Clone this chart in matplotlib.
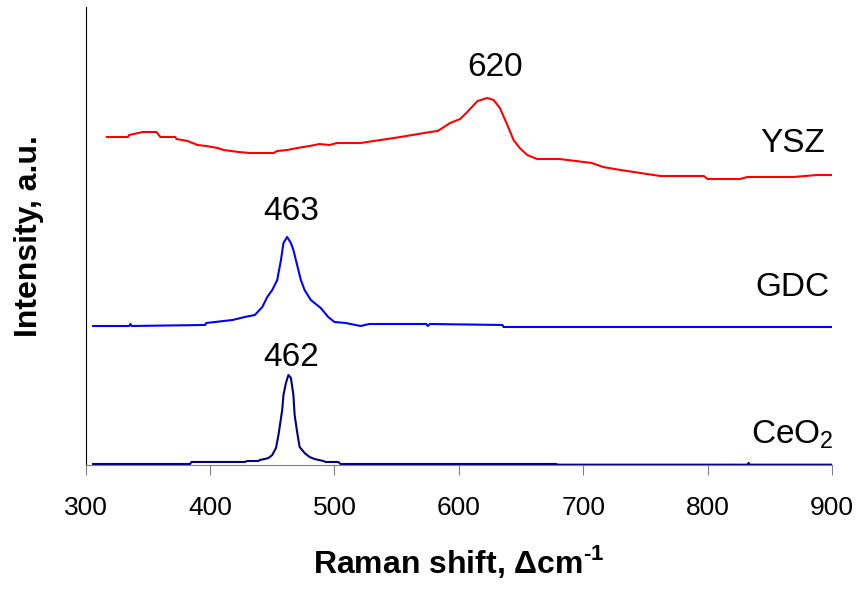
import matplotlib.pyplot as plt

plt.rcParams["font.family"] = ["Liberation Sans", "DejaVu Sans"]
plt.rcParams["mathtext.fontset"] = "custom"
plt.rcParams["mathtext.rm"] = "Liberation Sans"
plt.rcParams["mathtext.bf"] = "Liberation Sans:bold"

# Raman spectra, offset intensities (a.u.).
ysz_x = [317, 334, 335, 346, 357, 360, 372, 373, 382, 390, 397, 406, 411, 423,
         432, 440, 451, 454, 462, 470, 480, 488, 496, 502, 521, 537, 553, 577,
         583, 593, 601, 606, 612, 615, 623, 628, 633, 639, 644, 649, 655, 663,
         681, 707, 716, 730, 746, 762, 797, 800, 826, 832, 869, 888, 900]
ysz_y = [328, 328, 330, 333, 333, 328, 328, 326, 324, 320, 319, 317, 315, 313,
         312, 312, 312, 314, 315, 317, 319, 321, 320, 322, 322, 325, 328, 333,
         334, 342, 346, 352, 360, 364, 367, 365, 357, 340, 325, 317, 310, 306,
         306, 302, 298, 295, 292, 289, 289, 286, 286, 288, 288, 290, 290]

gdc_x = [306, 335, 336, 337, 396, 397, 418, 428, 436, 442, 446, 450, 454,
         457, 459, 462, 465, 467, 470, 473, 476, 481, 489, 495, 500, 509, 521,
         528, 574, 575, 577, 635, 636, 900]
gdc_y = [139, 139, 141, 139, 140, 142, 145, 148, 150, 158, 168, 175, 185,
         205, 222, 228, 222, 215, 200, 185, 175, 165, 157, 148, 143, 142, 139,
         141, 141, 139, 141, 140, 138, 138]

ceo2_x = [306, 384, 385, 428, 430, 439, 440, 444, 447, 450, 453, 455, 458,
          459, 461, 463, 465, 467, 468, 470, 472, 476, 480, 484, 491, 493,
          503, 505, 678, 680, 832, 833, 834, 900]
ceo2_y = [1, 1, 3, 3, 4, 4, 5, 6, 7, 10, 17, 30, 55, 70, 82, 90, 87, 70,
          50, 33, 18, 12, 8, 6, 4, 3, 3, 1, 1, 0.3, 0.3, 2, 0.3, 0.3]

peak_labels = ["620", "463", "462"]
peak_x = [629, 465, 465]
peak_y = [398, 253, 107]

names = ["YSZ", "GDC", "CeO$_2$"]
name_y = [322, 177, 30]

fig, ax = plt.subplots(figsize=(8.61, 5.94), dpi=100)
fig.subplots_adjust(left=0.0995, right=0.9663, bottom=0.2172, top=0.9882)

ax.plot(ysz_x, ysz_y, color="#ff0000", linewidth=1.5)
ax.plot(gdc_x, gdc_y, color="#0000ff", linewidth=1.5)
ax.plot(ceo2_x, ceo2_y, color="#000080", linewidth=1.5)

for lab, px, py in zip(peak_labels, peak_x, peak_y):
    ax.text(px, py, lab, fontsize=24, ha="center", va="center")

for nm, ny in zip(names, name_y):
    ax.text(868, ny, nm, fontsize=24, ha="center", va="center")

ax.set_xlim(300, 900)
ax.set_ylim(0, 458)
ax.set_xticks([300, 400, 500, 600, 700, 800, 900])
ax.set_yticks([])

ax.spines["top"].set_visible(False)
ax.spines["right"].set_visible(False)
ax.spines["bottom"].set_color("#808080")
ax.spines["left"].set_color("black")
ax.tick_params(axis="x", direction="out", length=7, color="#808080",
               labelsize=19, pad=15)

ax.set_xlabel("Raman shift, Δcm$^{\\mathbf{\u20101}}$", fontsize=23,
              fontweight="bold", labelpad=17)
ax.set_ylabel("Intensity, a.u.", fontsize=23, fontweight="bold", labelpad=30)

fig.savefig("out.png", dpi=100)
